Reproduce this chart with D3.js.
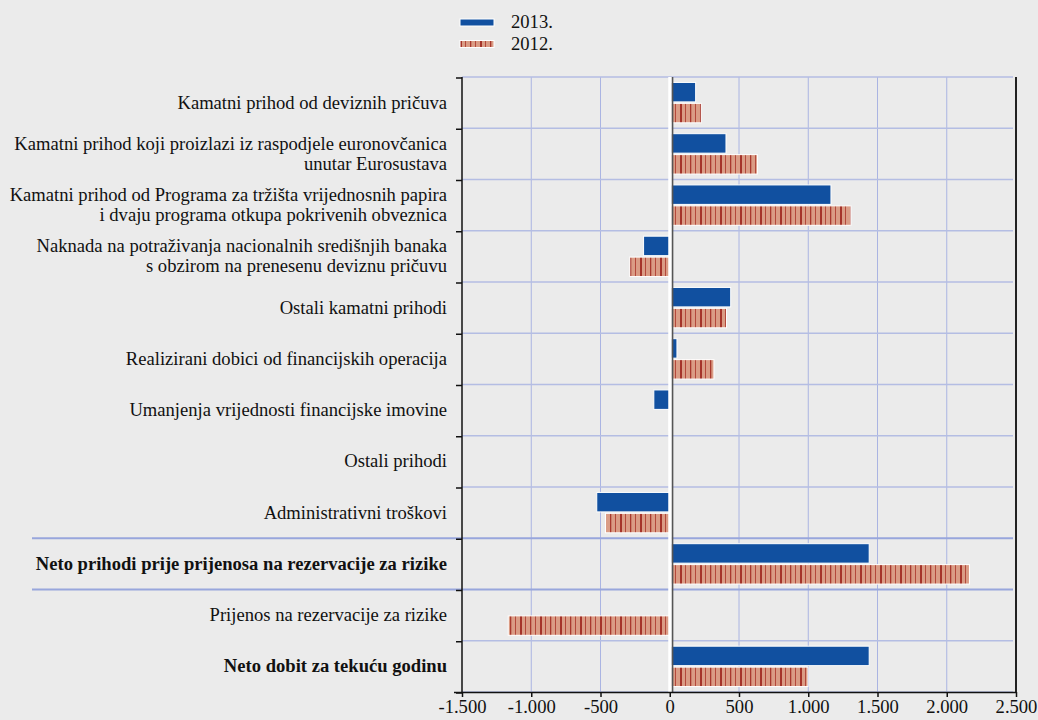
<!DOCTYPE html>
<html>
<head>
<meta charset="utf-8">
<script src="https://cdn.jsdelivr.net/npm/d3@7"></script>
<style>
  body { margin: 0; background: #ebebeb; }
  text { font-family: "Liberation Serif", "Times New Roman", serif; fill: #111; }
</style>
</head>
<body>
<div id="chart"></div>
<script>
// categories (each label split into lines), values in EUR millions
const categories = [
  ["Kamatni prihod od deviznih pričuva"],
  ["Kamatni prihod koji proizlazi iz raspodjele euronovčanica", "unutar Eurosustava"],
  ["Kamatni prihod od Programa za tržišta vrijednosnih papira", "i dvaju programa otkupa pokrivenih obveznica"],
  ["Naknada na potraživanja nacionalnih središnjih banaka", "s obzirom na prenesenu deviznu pričuvu"],
  ["Ostali kamatni prihodi"],
  ["Realizirani dobici od financijskih operacija"],
  ["Umanjenja vrijednosti financijske imovine"],
  ["Ostali prihodi"],
  ["Administrativni troškovi"],
  ["Neto prihodi prije prijenosa na rezervacije za rizike"],
  ["Prijenos na rezervacije za rizike"],
  ["Neto dobit za tekuću godinu"]
]
const boldRows = [9, 11]
const separatorRows = [9, 10]   // full width lines above these rows

const values2013 = [187, 406, 1164, -189, 440, 52, -115, 0, -527, 1440, -3, 1440]
const values2012 = [228, 633, 1308, -289, 410, 319, -4, 0, -464, 2164, -1166, 998]

const seriesNames = ["2013.", "2012."]
const xTicks = [-1500, -1000, -500, 0, 500, 1000, 1500, 2000, 2500]

const W = 1038, H = 720
const plot = {left: 462, right: 1016, top: 77, bottom: 692}
const fontSize = 18.6

const svg = d3.select("#chart").append("svg")
  .attr("width", W).attr("height", H)
  .style("background", "#ebebeb")

// stripe pattern for 2012
const defs = svg.append("defs")
const pat = defs.append("pattern")
  .attr("id", "stripes")
  .attr("patternUnits", "userSpaceOnUse")
  .attr("width", 20).attr("height", 20)
pat.append("rect").attr("width", 20).attr("height", 20).attr("fill", "#da9c85")
const stripes = [[0, 2, "#a5342a"], [5, 1, "#b4483b"], [10, 1.3, "#a9392e"], [15, 1, "#b4483b"]]
stripes.forEach(s => {
  pat.append("rect").attr("x", s[0]).attr("width", s[1]).attr("height", 20).attr("fill", s[2])
})

const x = d3.scaleLinear()
  .domain([-1500, 2500])
  .range([plot.left, plot.right])

const rows = d3.range(categories.length)
const y = d3.scaleBand()
  .domain(rows)
  .range([plot.top, plot.bottom])
  .padding(0)

const ySub = d3.scaleBand()
  .domain([0, 1])
  .range([0, y.bandwidth()])
  .paddingInner(0.07)
  .paddingOuter(0.26)

// vertical grid
svg.append("g").selectAll("line")
  .data(xTicks.filter(t => t !== 0 && t !== -1500 && t !== 2500))
  .join("line")
    .attr("x1", d => x(d)).attr("x2", d => x(d))
    .attr("y1", plot.top).attr("y2", plot.bottom)
    .attr("stroke", "#aab4e2").attr("stroke-width", 1)

// horizontal grid at row boundaries
const bounds = d3.range(categories.length + 1).map(i => plot.top + i * y.step())
svg.append("g").selectAll("line")
  .data(bounds)
  .join("line")
    .attr("x1", (d, i) => separatorRows.includes(i) ? 32 : plot.left)
    .attr("x2", plot.right - 3)
    .attr("y1", d => d).attr("y2", d => d)
    .attr("stroke", (d, i) => separatorRows.includes(i) ? "#98a6dc" : "#b4bde3")
    .attr("stroke-width", (d, i) => separatorRows.includes(i) ? 2 : 1.5)

// bars
const allSeries = [values2013, values2012]
const fills = ["#1150a0", "url(#stripes)"]
allSeries.forEach((vals, s) => {
  svg.append("g").selectAll("rect")
    .data(vals.map((v, i) => ({v, i})).filter(d => d.v !== 0))
    .join("rect")
      .attr("x", d => x(Math.min(0, d.v)))
      .attr("width", d => Math.abs(x(d.v) - x(0)))
      .attr("y", d => y(d.i) + ySub(s))
      .attr("height", ySub.bandwidth())
      .attr("fill", fills[s])
      .attr("stroke", "#ffffff")
      .attr("stroke-width", 1)
})

// zero line
svg.append("rect")
  .attr("x", x(0) - 1.5).attr("width", 3.6)
  .attr("y", plot.top).attr("height", plot.bottom - plot.top)
  .attr("fill", "#ffffff")
svg.append("line")
  .attr("x1", x(0) + 2.8).attr("x2", x(0) + 2.8)
  .attr("y1", plot.top).attr("y2", plot.bottom)
  .attr("stroke", "#555").attr("stroke-width", 1.6)

// left axis
svg.append("line")
  .attr("x1", plot.left).attr("x2", plot.left)
  .attr("y1", plot.top).attr("y2", plot.bottom)
  .attr("stroke", "#111").attr("stroke-width", 1.5)
svg.append("g").selectAll("line")
  .data(bounds)
  .join("line")
    .attr("x1", plot.left - 6).attr("x2", plot.left)
    .attr("y1", d => d + 1).attr("y2", d => d + 1)
    .attr("stroke", "#111").attr("stroke-width", 1.5)

// right border
svg.append("line")
  .attr("x1", plot.right).attr("x2", plot.right)
  .attr("y1", plot.top).attr("y2", plot.bottom)
  .attr("stroke", "#222").attr("stroke-width", 2)

// bottom axis
const fmt = d => d3.format(",")(Math.abs(d)).replace(/,/g, ".")
const xAxis = svg.append("g")
  .attr("transform", `translate(0, ${plot.bottom})`)
  .call(d3.axisBottom(x).tickValues(xTicks).tickSize(5).tickSizeOuter(0)
    .tickFormat(d => (d < 0 ? "-" : "") + fmt(d)))
xAxis.select(".domain").attr("stroke", "#111").attr("stroke-width", 1.5)
  .attr("d", `M${plot.left - 8},0.5H${plot.right}`)
xAxis.selectAll(".tick line").attr("stroke", "#111").attr("stroke-width", 1.5)
xAxis.selectAll(".tick text")
  .attr("y", 8)
  .style("font-family", '"Liberation Serif", "Times New Roman", serif')
  .style("font-size", fontSize + "px")
  .attr("fill", "#111")

// category labels
const labels = svg.append("g").selectAll("text")
  .data(categories)
  .join("text")
    .attr("text-anchor", "end")
    .attr("font-size", fontSize)
    .attr("font-weight", (d, i) => boldRows.includes(i) ? "bold" : "normal")
    .attr("transform", (d, i) => `translate(447, ${y(i) + y.bandwidth() / 2})`)
labels.selectAll("tspan")
  .data(d => d.map((t, k) => ({t, k, n: d.length})))
  .join("tspan")
    .attr("x", 0)
    .attr("y", d => (d.k - (d.n - 1) / 2) * 20 + 6)
    .text(d => d.t)

// legend
const legend = svg.append("g").attr("transform", "translate(460, 19)")
seriesNames.forEach((name, s) => {
  legend.append("rect")
    .attr("x", 0).attr("y", s * 21.5)
    .attr("width", 34).attr("height", 7)
    .attr("fill", fills[s]).attr("stroke", "#fff").attr("stroke-width", 1)
  legend.append("text")
    .attr("x", 51).attr("y", s * 21.5 + 9)
    .attr("font-size", fontSize)
    .text(name)
})
</script>
</body>
</html>
